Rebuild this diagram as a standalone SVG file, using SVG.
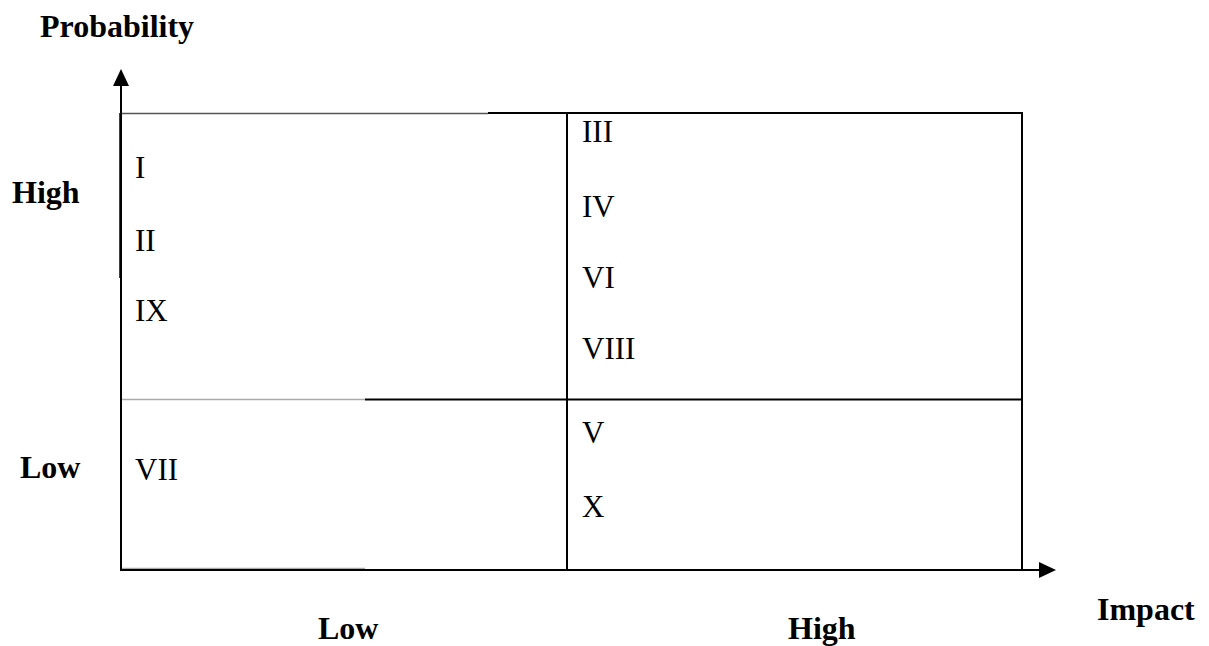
<svg xmlns="http://www.w3.org/2000/svg" width="1209" height="646" viewBox="0 0 1209 646">
<style>
.b{font-family:"Liberation Serif","Times New Roman",serif;font-weight:bold;font-size:32px;fill:#000}
.r{font-family:"Liberation Serif","Times New Roman",serif;font-size:31px;fill:#000}
.k{stroke:#000;stroke-width:2;fill:none}
.g{stroke:#555;stroke-width:1.5;fill:none}
.lg{stroke:#aaa;stroke-width:1.5;fill:none}
</style>
<defs>
<marker id="ah" markerWidth="17" markerHeight="16" refX="0" refY="8" orient="auto" markerUnits="userSpaceOnUse">
<path d="M0,0 L17,8 L0,16 Z" fill="#000"/>
</marker>
</defs>
<rect width="1209" height="646" fill="#fff"/>
<g id="labels">
<text class="b" x="40" y="37">Probability</text>
<text class="b" x="12" y="203">High</text>
<text class="b" x="20" y="478">Low</text>
<text class="b" x="318" y="639">Low</text>
<text class="b" x="788" y="639">High</text>
<text class="b" x="1097" y="620">Impact</text>
</g>
<g id="grid">
<line class="g" x1="121" y1="113.5" x2="488" y2="113.5"/>
<line class="k" x1="488" y1="113" x2="1023" y2="113"/>
<line class="k" x1="1022" y1="112" x2="1022" y2="571"/>
<line class="k" x1="567" y1="113" x2="567" y2="570"/>
<line class="lg" x1="121" y1="399.5" x2="365" y2="399.5"/>
<line class="k" x1="365" y1="399.5" x2="1022" y2="399.5"/>
<line class="lg" x1="121" y1="568.5" x2="365" y2="568.5"/>
<line class="k" x1="120" y1="113" x2="120" y2="278" style="stroke-width:1.5"/>
</g>
<g id="connectors">
<line class="k" x1="121" y1="571" x2="121" y2="86" marker-end="url(#ah)"/>
<line class="k" x1="120" y1="570" x2="1039" y2="570" marker-end="url(#ah)"/>
</g>
<g id="q-low-high">
<text class="r" x="135" y="178">I</text>
<text class="r" x="135" y="251">II</text>
<text class="r" x="135" y="321">IX</text>
</g>
<g id="q-high-high">
<text class="r" x="582" y="142">III</text>
<text class="r" x="582" y="217">IV</text>
<text class="r" x="582" y="288">VI</text>
<text class="r" x="582" y="359">VIII</text>
</g>
<g id="q-low-low">
<text class="r" x="135" y="480">VII</text>
</g>
<g id="q-high-low">
<text class="r" x="582" y="443">V</text>
<text class="r" x="582" y="517">X</text>
</g>
</svg>
